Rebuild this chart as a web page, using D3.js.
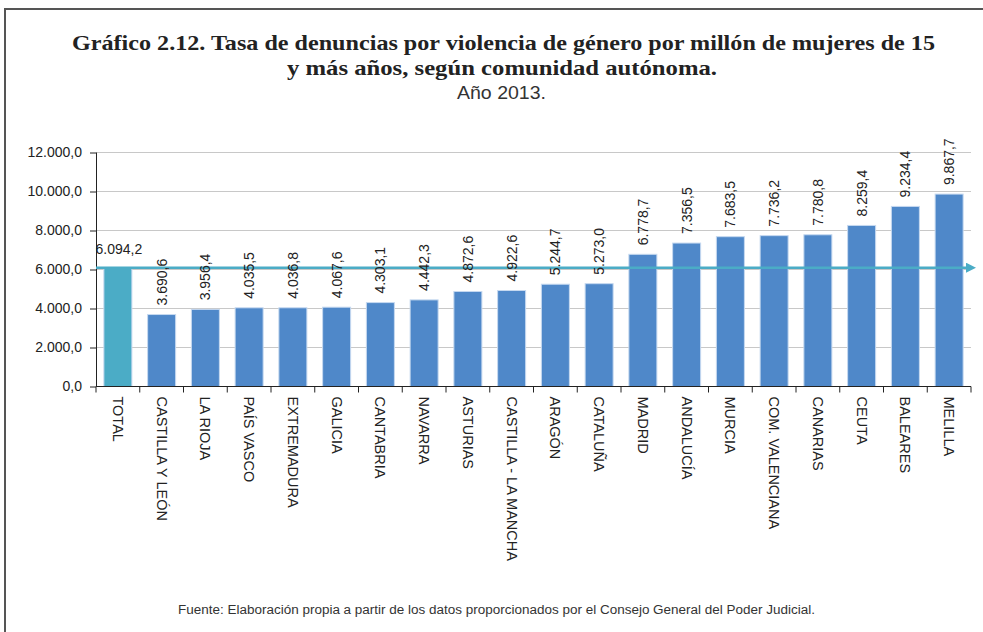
<!DOCTYPE html>
<html><head><meta charset="utf-8">
<script src="https://cdnjs.cloudflare.com/ajax/libs/d3/7.8.5/d3.min.js"></script>
<style>body{margin:0;background:#fff}svg{display:block}</style>
</head><body>
<svg id="c" width="983" height="632"></svg>
<script>
const categories = ["TOTAL","CASTILLA Y LEÓN","LA RIOJA","PAÍS VASCO","EXTREMADURA","GALICIA","CANTABRIA","NAVARRA","ASTURIAS","CASTILLA - LA MANCHA","ARAGÓN","CATALUÑA","MADRID","ANDALUCÍA","MURCIA","COM. VALENCIANA","CANARIAS","CEUTA","BALEARES","MELILLA"];
const values = [6094.2,3690.6,3956.4,4035.5,4036.8,4067.6,4303.1,4442.3,4872.6,4922.6,5244.7,5273.0,6778.7,7356.5,7683.5,7736.2,7780.8,8259.4,9234.4,9867.7];
const yTicks = [0,2000,4000,6000,8000,10000,12000];
const totalValue = 6094.2;

const fmt = v => { const s = d3.format(",.1f")(v); return s.replace(/,/g,"#").replace(".",",").replace(/#/g,"."); };

const svg = d3.select("#c");
// frame
svg.append("rect").attr("x",5).attr("y",9).attr("width",1000).attr("height",700)
  .attr("fill","none").attr("stroke","#555").attr("stroke-width",2);

// titles
svg.append("text").attr("x",503.5).attr("y",50).attr("text-anchor","middle")
  .attr("font-family","Liberation Serif").attr("font-weight","bold").attr("font-size",22).attr("fill","#222")
  .attr("textLength",863).attr("lengthAdjust","spacingAndGlyphs")
  .text("Gráfico 2.12.  Tasa de denuncias por violencia de género por millón de mujeres de 15");
svg.append("text").attr("x",502).attr("y",75).attr("text-anchor","middle")
  .attr("font-family","Liberation Serif").attr("font-weight","bold").attr("font-size",22).attr("fill","#222")
  .attr("textLength",430).attr("lengthAdjust","spacingAndGlyphs")
  .text("y más años, según comunidad autónoma.");
svg.append("text").attr("x",501.5).attr("y",99).attr("text-anchor","middle")
  .attr("font-family","Liberation Sans").attr("font-size",19).attr("fill","#333")
  .attr("textLength",89).attr("lengthAdjust","spacingAndGlyphs")
  .text("Año 2013.");

const x = d3.scaleBand().domain(categories).range([96,971]).paddingInner(0.36).paddingOuter(0.18);
const y = d3.scaleLinear().domain([0,12000]).range([386.5,152.5]);

// grid
svg.append("g").selectAll("line").data(yTicks.filter(d=>d>0)).join("line")
  .attr("x1",96).attr("x2",971).attr("y1",d=>y(d)).attr("y2",d=>y(d))
  .attr("stroke","#c8c8c8").attr("stroke-width",1);

// y axis
const ya = svg.append("g").attr("transform","translate(96,0)")
  .call(d3.axisLeft(y).tickValues(yTicks).tickFormat(fmt).tickSize(6).tickPadding(8));
ya.selectAll("text").attr("font-family","Liberation Sans").attr("font-size",14).attr("fill","#222");
ya.selectAll("line,path").attr("stroke","#222");
ya.select(".domain").attr("d","M0.5,152.5V386.5");

// bars
svg.append("g").selectAll("rect").data(categories).join("rect")
  .attr("x",d=>x(d)).attr("width",x.bandwidth())
  .attr("y",(d,i)=>y(values[i])).attr("height",(d,i)=>y(0)-y(values[i]))
  .attr("fill",(d,i)=>i===0?"#4bacc6":"#4f88c9")
  .attr("stroke","#c6d9f0").attr("stroke-width",1);

// x axis
const xa = svg.append("g").attr("transform","translate(0,386.5)");
xa.append("line").attr("x1",96).attr("x2",971).attr("stroke","#222");
const bounds = d3.range(categories.length+1).map(i=>96 + i*(875/categories.length));
xa.selectAll(".tk").data(bounds).join("line").attr("class","tk")
  .attr("x1",d=>d).attr("x2",d=>d).attr("y1",0).attr("y2",6).attr("stroke","#222");
xa.selectAll(".lb").data(categories).join("text").attr("class","lb")
  .attr("transform",d=>`translate(${x(d)+x.bandwidth()/2},10) rotate(90)`)
  .attr("dy","0.35em").attr("font-family","Liberation Sans").attr("font-size",14.5).attr("fill","#222")
  .text(d=>d);

// total line with arrow
const defs = svg.append("defs");
defs.append("marker").attr("id","arr").attr("viewBox","0 0 10 10").attr("refX",2).attr("refY",5)
  .attr("markerWidth",4).attr("markerHeight",4).attr("orient","auto")
  .append("path").attr("d","M0,0L10,5L0,10Z").attr("fill","#4bacc6");
svg.append("line").attr("x1",96).attr("x2",968).attr("y1",y(totalValue)).attr("y2",y(totalValue))
  .attr("stroke","#4bacc6").attr("stroke-width",2.5).attr("marker-end","url(#arr)");

// value labels
svg.append("text").attr("x",x(categories[0])+x.bandwidth()/2+1).attr("y",y(values[0])-14)
  .attr("text-anchor","middle").attr("font-family","Liberation Sans").attr("font-size",14).attr("fill","#222")
  .text(fmt(values[0]));
svg.append("g").selectAll("text").data(categories.slice(1)).join("text")
  .attr("transform",(d,i)=>`translate(${x(d)+x.bandwidth()/2},${y(values[i+1])-9}) rotate(-90)`)
  .attr("dy","0.35em").attr("font-family","Liberation Sans").attr("font-size",14).attr("fill","#222")
  .text((d,i)=>fmt(values[i+1]));

// footer
svg.append("text").attr("x",496.5).attr("y",614).attr("text-anchor","middle")
  .attr("font-family","Liberation Sans").attr("font-size",12.5).attr("fill","#333")
  .attr("textLength",637).attr("lengthAdjust","spacingAndGlyphs")
  .text("Fuente: Elaboración propia a partir de los datos proporcionados por el Consejo General del Poder Judicial.");
</script>
</body></html>
